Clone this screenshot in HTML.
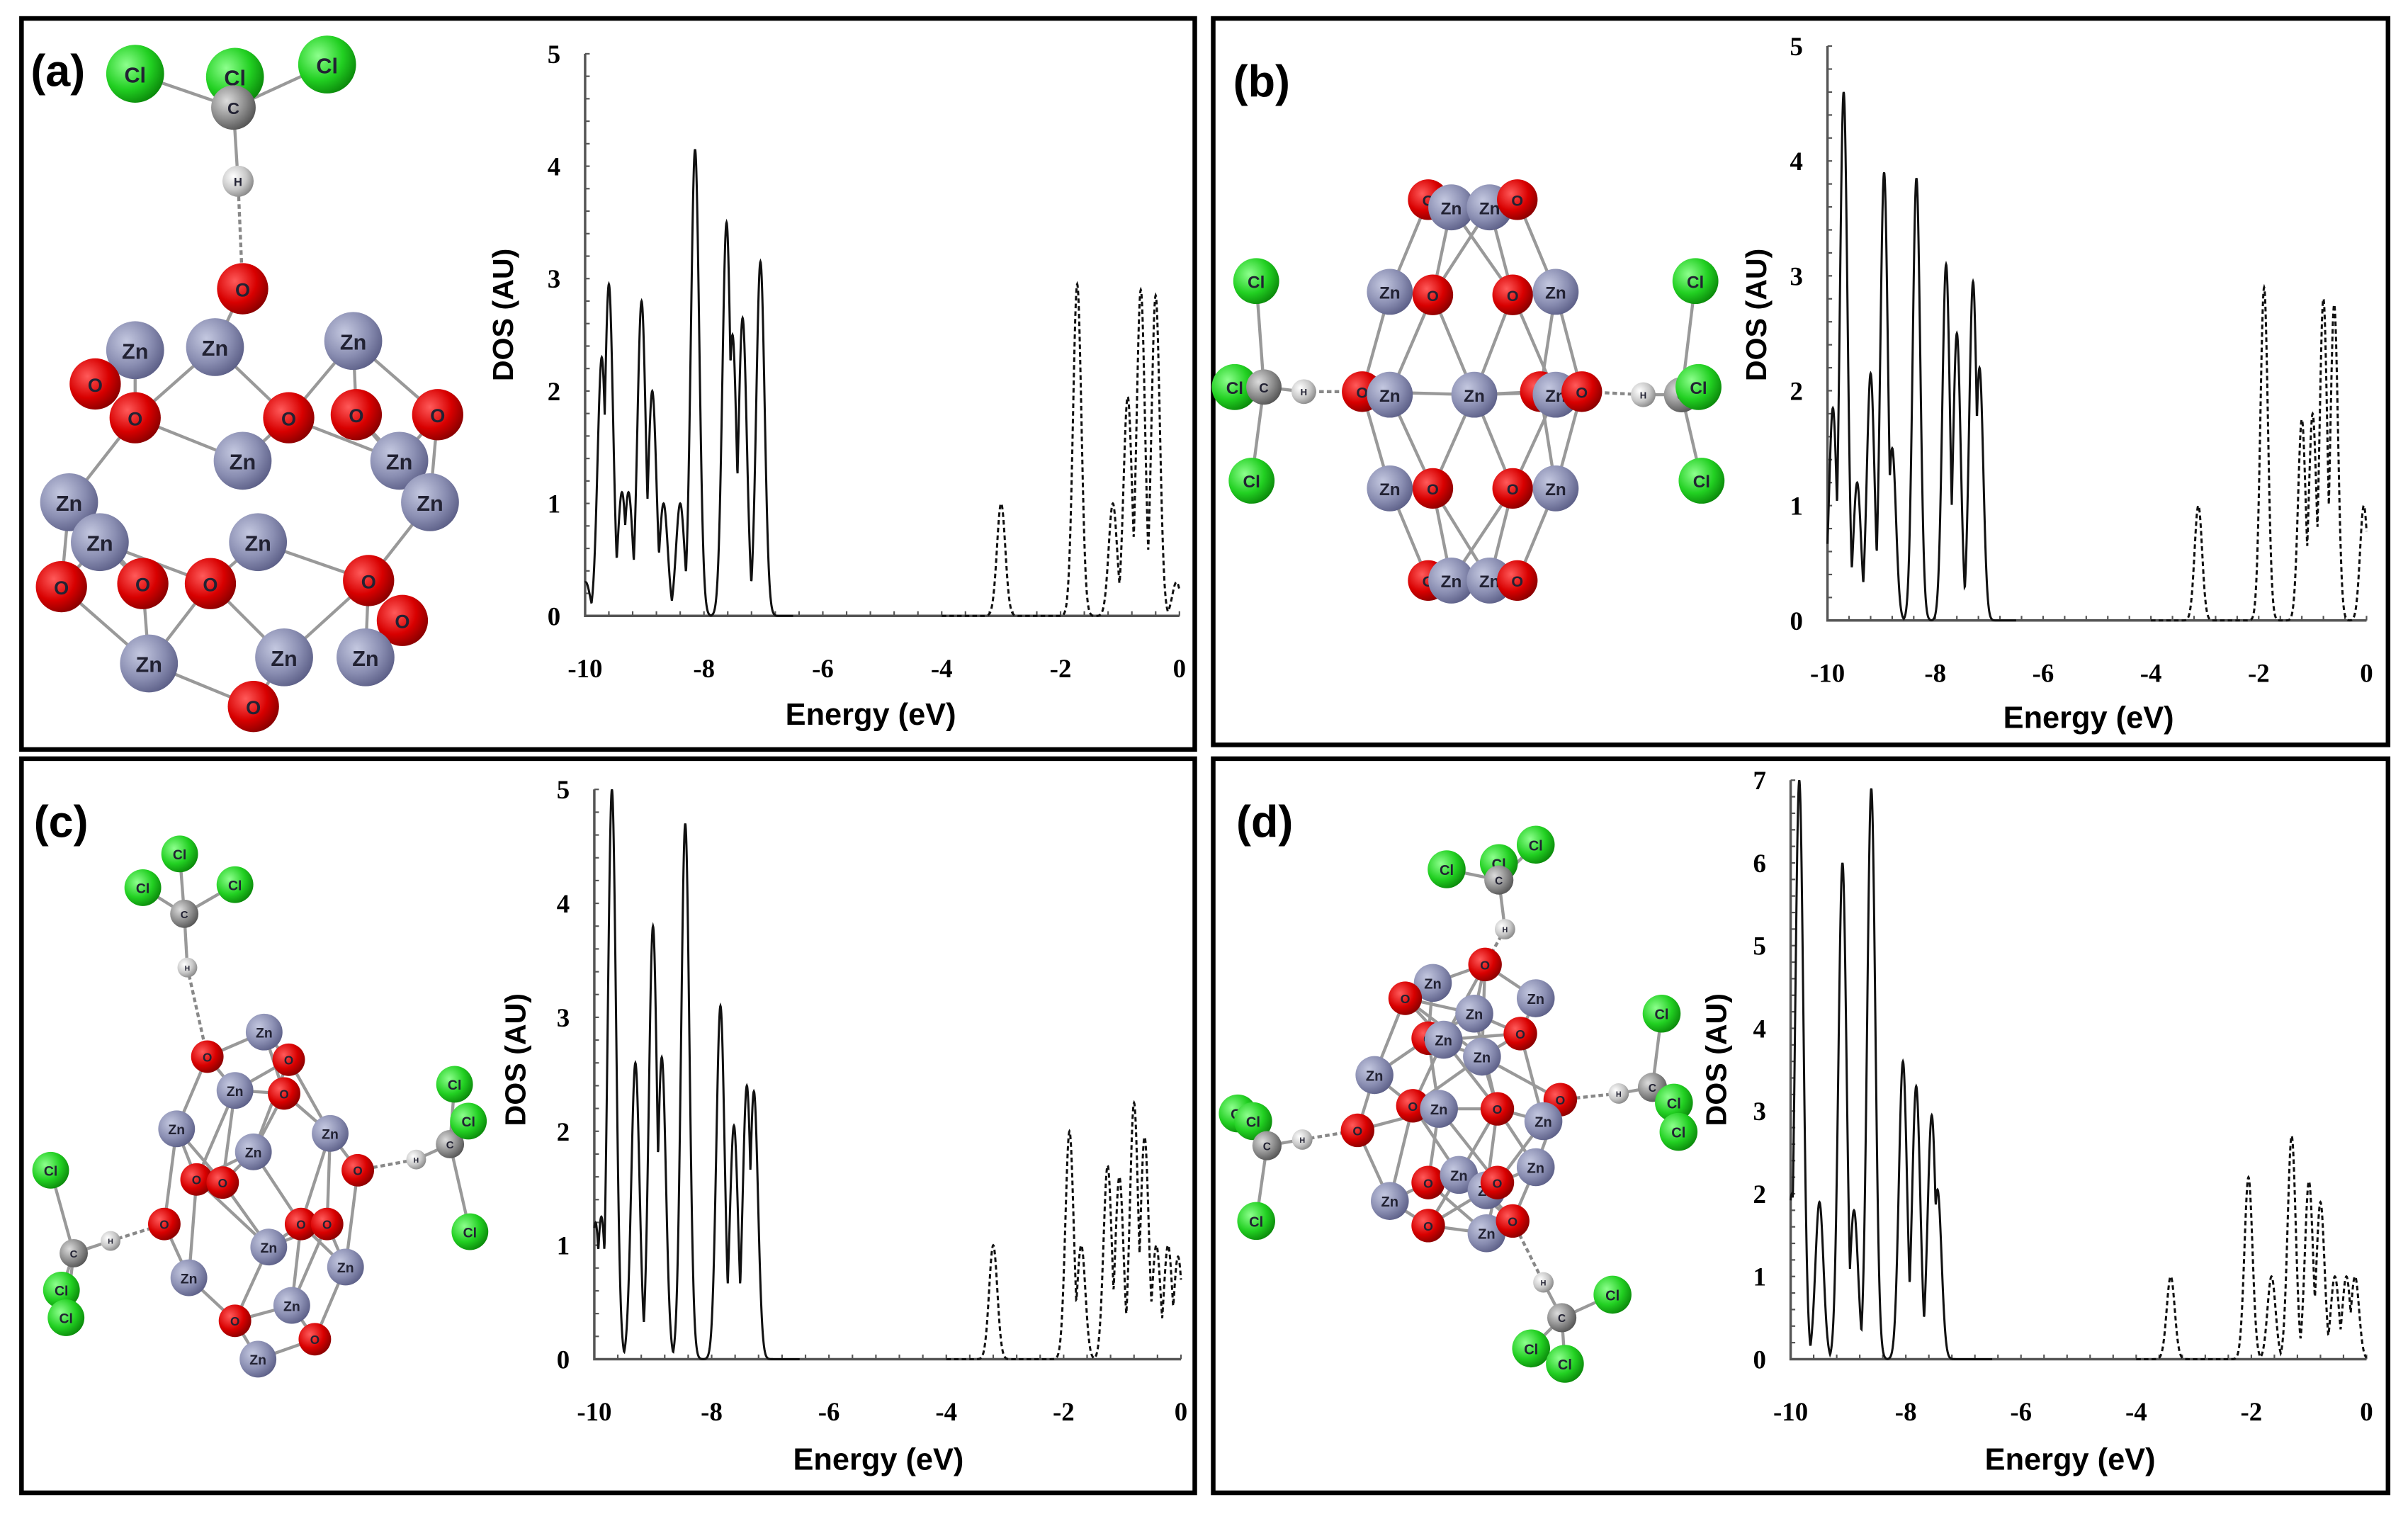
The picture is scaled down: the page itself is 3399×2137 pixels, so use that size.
<!DOCTYPE html>
<html><head><meta charset="utf-8"><style>
html,body{margin:0;padding:0;background:#fff;}
svg{display:block;}
</style></head><body>
<svg id="fig" width="3399" height="2137" viewBox="0 0 1568 985.8" xmlns="http://www.w3.org/2000/svg">
<defs>
<radialGradient id="gZn" cx="35%" cy="35%" r="70%"><stop offset="0" stop-color="#c4c8e0"/><stop offset="0.6" stop-color="#8a8eb2"/><stop offset="1" stop-color="#5d6088"/></radialGradient>
<radialGradient id="gO" cx="35%" cy="35%" r="70%"><stop offset="0" stop-color="#ff5a5a"/><stop offset="0.6" stop-color="#d80000"/><stop offset="1" stop-color="#8a0000"/></radialGradient>
<radialGradient id="gCl" cx="35%" cy="35%" r="70%"><stop offset="0" stop-color="#8dff8d"/><stop offset="0.6" stop-color="#22d022"/><stop offset="1" stop-color="#0b8a0b"/></radialGradient>
<radialGradient id="gC" cx="35%" cy="35%" r="70%"><stop offset="0" stop-color="#dcdcdc"/><stop offset="0.6" stop-color="#8c8c8c"/><stop offset="1" stop-color="#555"/></radialGradient>
<radialGradient id="gH" cx="35%" cy="35%" r="70%"><stop offset="0" stop-color="#ffffff"/><stop offset="0.6" stop-color="#c8c8c8"/><stop offset="1" stop-color="#888"/></radialGradient>
</defs>
<g id="frames">
<rect x="14" y="12" width="764" height="476" fill="none" stroke="#000" stroke-width="3"/>
<rect x="790" y="12" width="765" height="473" fill="none" stroke="#000" stroke-width="3"/>
<rect x="14" y="494" width="764" height="478" fill="none" stroke="#000" stroke-width="3"/>
<rect x="790" y="494" width="765" height="478" fill="none" stroke="#000" stroke-width="3"/>
</g>
<g font-family="Liberation Sans, sans-serif" font-weight="bold" font-size="29">
<text x="20" y="56">(a)</text>
<text x="803" y="63">(b)</text>
<text x="22" y="545">(c)</text>
<text x="805" y="545">(d)</text>
</g>
<g id="mol"></g>
<g id="plots"></g>
</svg>
<script>
// ---- DOS data: peak energies (eV) and heights (AU) ----
const aOccE=[-9.99,-9.72,-9.6,-9.38,-9.27,-9.05,-8.87,-8.68,-8.4,-8.15,-7.62,-7.52,-7.35,-7.05];
const aOccH=[0.3,2.3,2.95,1.1,1.1,2.8,2.0,1.0,1.0,4.15,3.5,2.5,2.65,3.15];
const aVirE=[-3.0,-1.72,-1.12,-0.87,-0.65,-0.4,-0.05];
const aVirH=[1.0,2.95,1.0,1.95,2.9,2.85,0.3];
const bOccE=[-9.9,-9.7,-9.45,-9.2,-8.95,-8.8,-8.35,-7.8,-7.6,-7.3,-7.18];
const bOccH=[1.85,4.6,1.2,2.15,3.9,1.5,3.85,3.1,2.5,2.95,2.2];
const bVirE=[-3.12,-1.9,-1.2,-1.0,-0.8,-0.6,-0.05];
const bVirH=[1.0,2.9,1.75,1.8,2.8,2.75,1.0];
const cOccE=[-9.98,-9.88,-9.7,-9.3,-9.0,-8.85,-8.45,-7.85,-7.62,-7.4,-7.28];
const cOccH=[1.2,1.25,5.0,2.6,3.8,2.65,4.7,3.1,2.05,2.4,2.35];
const cVirE=[-3.2,-1.9,-1.7,-1.25,-1.05,-0.8,-0.62,-0.42,-0.22,-0.05];
const cVirH=[1.0,2.0,1.0,1.7,1.6,2.25,1.95,1.0,1.0,0.9];
const dOccE=[-9.98,-9.85,-9.5,-9.1,-8.9,-8.6,-8.05,-7.82,-7.55,-7.45];
const dOccH=[2.0,7.0,1.9,6.0,1.8,6.9,3.6,3.3,2.95,2.05];
const dVirE=[-3.4,-2.05,-1.65,-1.3,-1.0,-0.8,-0.55,-0.35,-0.2];
const dVirH=[1.0,2.2,1.0,2.7,2.15,1.9,1.0,1.0,1.0];
const xTicks=[-10,-8,-6,-4,-2,0];
const yTicks5=[0,1,2,3,4,5];
const yTicks7=[0,1,2,3,4,5,6,7];

const NS='http://www.w3.org/2000/svg';
function mk(tag,attrs,parent){const e=document.createElementNS(NS,tag);for(const k in attrs)e.setAttribute(k,attrs[k]);parent.appendChild(e);return e;}
const plots=document.getElementById('plots');
const panels=[
 {id:'a',x0:381,x1:768,y0:401,yt:35,ymax:5,yt_:yTicks5,oe:aOccE,oh:aOccH,ve:aVirE,vh:aVirH,dosx:334,dosy:205,ex:567,ey:472},
 {id:'b',x0:1190,x1:1541,y0:404,yt:30,ymax:5,yt_:yTicks5,oe:bOccE,oh:bOccH,ve:bVirE,vh:bVirH,dosx:1150,dosy:205,ex:1360,ey:474},
 {id:'c',x0:387,x1:769,y0:885,yt:514,ymax:5,yt_:yTicks5,oe:cOccE,oh:cOccH,ve:cVirE,vh:cVirH,dosx:342,dosy:690,ex:572,ey:957},
 {id:'d',x0:1166,x1:1541,y0:885,yt:508,ymax:7,yt_:yTicks7,oe:dOccE,oh:dOccH,ve:dVirE,vh:dVirH,dosx:1124,dosy:690,ex:1348,ey:957}
];
const SIG=0.07;
function curve(E,H,lo,hi){
 const pts=[];
 for(let e=lo;e<=hi+1e-9;e+=0.005){let y=0;for(let i=0;i<E.length;i++){y=Math.max(y,H[i]*Math.exp(-((e-E[i])**2)/(2*SIG*SIG)));}pts.push([e,y]);}
 return pts;
}
panels.forEach(p=>{
 const g=mk('g',{},plots);
 
 
 const X=e=>p.x0+(e+10)/10*(p.x1-p.x0);
 const Y=v=>p.y0-v/p.ymax*(p.y0-p.yt);
 const ax=mk('path',{d:`M${p.x0},${p.yt} L${p.x0},${p.y0} L${p.x1},${p.y0}`,fill:'none',stroke:'#555',"stroke-width":1.6},g);
 
 
 for(let v=0;v<=p.ymax+1e-9;v+=0.2){mk('line',{x1:p.x0,x2:p.x0+3,y1:Y(v),y2:Y(v),stroke:'#555','stroke-width':1},g);}
 for(let e=-10;e<=0.001;e+=0.4){mk('line',{x1:X(e),x2:X(e),y1:p.y0,y2:p.y0-3,stroke:'#555','stroke-width':1},g);}
 p.yt_.forEach(v=>{const t=mk('text',{x:p.x0-16,y:Y(v)+6,'text-anchor':'end','font-family':'Liberation Serif, serif','font-weight':'bold','font-size':17},g);t.textContent=v;
  
  });
 xTicks.forEach(v=>{const t=mk('text',{x:X(v),y:p.y0+40,'text-anchor':'middle','font-family':'Liberation Serif, serif','font-weight':'bold','font-size':17},g);t.textContent=v;
  
  });
 const yl=mk('text',{x:0,y:0,transform:`translate(${p.dosx},${p.dosy}) rotate(-90)`,'text-anchor':'middle','font-family':'Liberation Sans, sans-serif','font-weight':'bold','font-size':19},g);yl.textContent='DOS (AU)';
 
 
 const xl=mk('text',{x:p.ex,y:p.ey,'text-anchor':'middle','font-family':'Liberation Sans, sans-serif','font-weight':'bold','font-size':20},g);xl.textContent='Energy (eV)';
 
 
 const oc=curve(p.oe,p.oh,-10,-6.5);
 const ol=mk('path',{d:'M'+oc.map(q=>X(q[0]).toFixed(2)+','+Y(q[1]).toFixed(2)).join('L'),fill:'none',stroke:'#111','stroke-width':1.4},g);
 
 
 const vc=curve(p.ve,p.vh,-4,0);
 const vl=mk('path',{d:'M'+vc.map(q=>X(q[0]).toFixed(2)+','+Y(q[1]).toFixed(2)).join('L'),fill:'none',stroke:'#111','stroke-width':1.4,'stroke-dasharray':'3,2'},g);
 
 
});

// ---- molecules ----
const molA=[['Cl',88,48],['Cl',153,50],['Cl',213,42],['C',152,70],['H',155,118],['O',158,188],['Zn',88,228],['Zn',140,226],['Zn',230,222],['O',62,250],['O',88,272],['O',188,272],['O',232,270],['O',285,270],['Zn',158,300],['Zn',260,300],['Zn',45,327],['Zn',280,327],['Zn',65,353],['Zn',168,353],['O',40,382],['O',93,380],['O',137,380],['O',240,378],['O',262,404],['Zn',97,432],['Zn',185,428],['Zn',238,428],['O',165,460]];
const hbA=[[155,118,158,188]];
const molB=[['Cl',818,183],['Cl',804,252],['Cl',815,313],['C',823,252],['H',849,255],['H',1070,257],['C',1095,257],['Cl',1104,183],['Cl',1106,252],['Cl',1108,313],
['O',930,130],['Zn',945,135],['Zn',970,135],['O',988,130],['Zn',905,190],['O',933,192],['O',985,192],['Zn',1013,190],['O',887,255],['Zn',905,257],['Zn',960,257],['O',1003,255],['Zn',1013,257],['O',1030,255],['Zn',905,318],['O',933,318],['O',985,318],['Zn',1013,318],['O',930,378],['Zn',945,378],['Zn',970,378],['O',988,378]];
const hbB=[[849,255,887,255],[1030,255,1070,257]];
const molC=[['Cl',117,556],['Cl',93,578],['Cl',153,576],['C',120,595],['H',122,630],['O',135,688],['Zn',172,672],['O',188,690],['Zn',153,710],['O',185,712],['Zn',115,735],['Zn',165,750],['Zn',215,738],['O',233,762],['O',128,768],['O',145,770],['O',107,797],['Zn',123,832],['Zn',175,812],['Zn',225,825],['O',196,797],['O',213,797],['Zn',190,850],['O',153,860],['O',205,872],['Zn',168,885],
['H',271,755],['C',293,745],['Cl',296,706],['Cl',305,730],['Cl',306,802],['Cl',33,762],['C',48,816],['H',72,808],['Cl',40,840],['Cl',43,858]];
const hbC=[[122,630,135,688],[233,762,271,755],[72,808,107,797]];
const molD=[['Cl',942,566],['Cl',1000,550],['Cl',976,562],['C',976,573],['H',980,605],
['O',967,628],['Zn',933,640],['O',915,650],['Zn',960,660],['Zn',1000,650],['O',930,676],['O',990,673],['Zn',965,688],['Zn',940,677],['Zn',895,700],['O',920,720],['O',1016,716],['Zn',937,722],['O',884,736],['O',975,722],['Zn',1005,730],['Zn',1000,760],['Zn',905,782],['O',930,770],['Zn',950,765],['Zn',968,775],['O',975,770],['O',930,798],['Zn',968,803],['O',985,795],
['Cl',806,725],['Cl',816,730],['Cl',818,795],['C',825,746],['H',848,742],['H',1054,712],['C',1076,708],['Cl',1082,660],['Cl',1090,718],['Cl',1093,737],['H',1005,835],['C',1017,858],['Cl',1050,843],['Cl',997,878],['Cl',1019,888]];
const hbD=[[980,605,967,628],[848,742,884,736],[1016,716,1054,712],[985,795,1005,835]];
const R={Zn:13,O:11.5,Cl:13,C:10,H:7};
const molG=document.getElementById('mol');
[[molA,hbA,'a',1.0,1.45],[molB,hbB,'b',1.0,1.15],[molC,hbC,'c',0.8,0.92],[molD,hbD,'d',0.8,0.95]].forEach(([atoms,hb,id,s,rs])=>{
 const g=mk('g',{},molG);
 
 
 for(let i=0;i<atoms.length;i++)for(let j=i+1;j<atoms.length;j++){
  const a=atoms[i],b=atoms[j];const d=Math.hypot(a[1]-b[1],a[2]-b[2]);
  const zo=(a[0]==='Zn'&&b[0]==='O')||(a[0]==='O'&&b[0]==='Zn');
  const ccl=(a[0]==='C'&&b[0]==='Cl')||(b[0]==='C'&&a[0]==='Cl');
  const ch=(a[0]==='C'&&b[0]==='H')||(b[0]==='C'&&a[0]==='H');
  if((zo&&d<62*s+16)||(ccl&&d<80)||(ch&&d<50)) mk('line',{x1:a[1],y1:a[2],x2:b[1],y2:b[2],stroke:'#999','stroke-width':2},g);
 }
 hb.forEach(h=>mk('line',{x1:h[0],y1:h[1],x2:h[2],y2:h[3],stroke:'#888','stroke-width':2,'stroke-dasharray':'3,2'},g));
 atoms.forEach(a=>{
  const r=R[a[0]]*rs;
  const c=mk('circle',{cx:a[1],cy:a[2],r:r,fill:'url(#g'+a[0]+')'},g);
  
  
  const t=mk('text',{x:a[1],y:a[2]+r*0.3,'text-anchor':'middle','font-family':'Liberation Sans, sans-serif','font-size':r*0.75,'font-weight':'bold',fill:'#223'},g);
  t.textContent=a[0];
 });
});
</script>
</body></html>
